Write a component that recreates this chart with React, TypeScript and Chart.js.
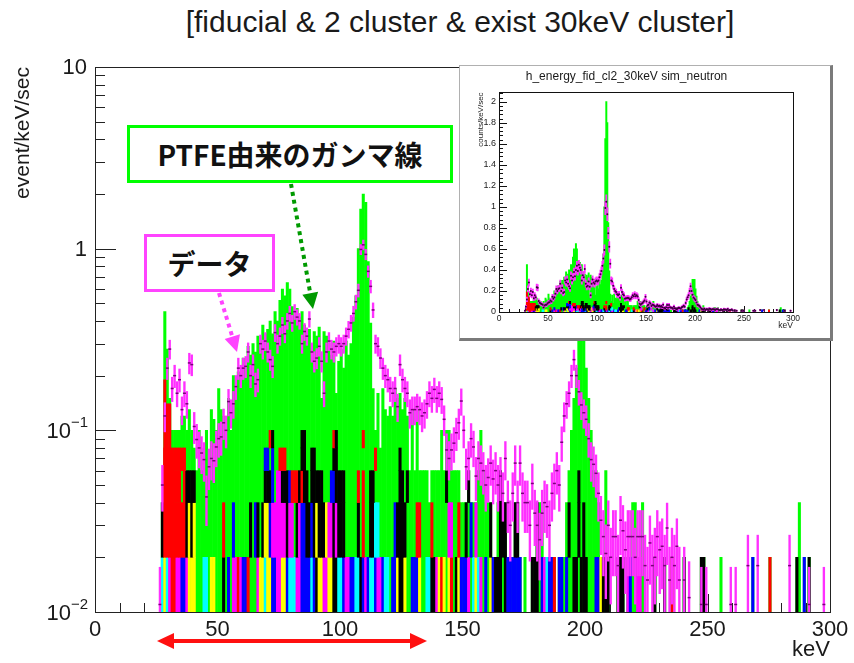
import React, { useEffect, useRef } from "react";
import { Chart, registerables } from "chart.js";

Chart.register(...registerables);

const FONT = "'Liberation Sans', Arial, Helvetica, sans-serif";
const CJK_FONT = "'Noto Sans CJK JP', 'Noto Sans CJK SC', sans-serif";
const INK = "#1a1a1a";

// Energy spectrum: 300 bins of 1 keV covering 0–300 keV
const BIN_COUNT = 300;
const binCenters = Array.from({ length: BIN_COUNT }, (_, i) => i + 0.5);

// Rate carried by one simulated count, and by one measured count (Poisson errors)
const SIM_COUNT_RATE = 0.02;
const DATA_COUNT_RATE = 0.004;

// Total simulated rate per bin [event/keV/sec] (top of the stacked histogram)
const simTotal = [
  0, 0, 0, 0, 0, 0, 0, 0, 0, 0,
  0, 0, 0, 0, 0, 0, 0, 0, 0, 0,
  0, 0, 0, 0, 0, 0, 0, 0.04, 0.45, 0.28,
  0.15, 0.1, 0.1, 0.1, 0.1, 0.12, 0.12, 0.1, 0.13, 0.1,
  0.08, 0.06, 0.1, 0.06, 0.08, 0.1, 0.06, 0.13, 0.115, 0.1,
  0.17, 0.13, 0.12, 0.1, 0.15, 0.1, 0.2, 0.17, 0.21, 0.19,
  0.25, 0.22, 0.29, 0.26, 0.3, 0.27, 0.33, 0.3, 0.38, 0.34,
  0.36, 0.4, 0.34, 0.45, 0.4, 0.52, 0.6, 0.55, 0.65, 0.6,
  0.48, 0.45, 0.47, 0.42, 0.45, 0.38, 0.33, 0.36, 0.3, 0.35,
  0.33, 0.37, 0.15, 0.35, 0.33, 0.3, 0.26, 0.31, 0.16, 0.24,
  0.28, 0.22, 0.31, 0.26, 0.3, 0.42, 0.55, 1.0, 1.65, 2.0,
  1.8, 0.85, 0.39, 0.17, 0.1, 0.16, 0.08, 0.17, 0.13, 0.12,
  0.135, 0.12, 0.17, 0.15, 0.16, 0.13, 0.15, 0.12, 0.06, 0.13,
  0.06, 0.13, 0.06, 0.06, 0.06, 0.06, 0.04, 0.06, 0.06, 0.06,
  0.06, 0.1, 0.06, 0.1, 0.1, 0.06, 0.06, 0.06, 0.06, 0.04,
  0.04, 0.04, 0.06, 0.04, 0.04, 0.04, 0.06, 0.1, 0.06, 0.04,
  0.04, 0.04, 0.02, 0.02, 0.04, 0.06, 0.04, 0.04, 0.02, 0.02,
  0.02, 0.04, 0.04, 0.02, 0, 0.02, 0, 0, 0.02, 0.02,
  0.04, 0.04, 0.04, 0.02, 0.02, 0.02, 0.02, 0.02, 0, 0.02,
  0.02, 0.02, 0.04, 0.06, 0.1, 0.15, 0.22, 0.31, 0.31, 0.31,
  0.22, 0.15, 0.1, 0.06, 0.06, 0.04, 0.02, 0.02, 0.06, 0.02,
  0, 0, 0, 0.02, 0.02, 0.02, 0, 0.02, 0.02, 0.04,
  0.04, 0.02, 0.02, 0.04, 0, 0, 0, 0, 0.02, 0,
  0, 0, 0.02, 0, 0, 0.02, 0, 0, 0, 0,
  0.02, 0, 0, 0, 0, 0, 0, 0.02, 0.02, 0,
  0, 0, 0, 0, 0, 0.02, 0, 0, 0, 0,
  0, 0, 0, 0, 0, 0, 0, 0, 0.02, 0,
  0, 0, 0, 0, 0, 0.02, 0, 0, 0, 0,
  0, 0, 0, 0, 0, 0, 0.02, 0.04, 0, 0.02,
  0, 0.02, 0, 0, 0, 0, 0, 0, 0, 0,
];

// Measured rate per bin [event/keV/sec]; 0 = empty bin
const dataRate = [
  0, 0, 0, 0, 0, 0, 0, 0, 0, 0,
  0, 0, 0, 0, 0, 0, 0, 0, 0, 0,
  0, 0, 0, 0, 0, 0, 0.011, 0.05, 0.12, 0.22,
  0.28, 0.17, 0.2, 0.16, 0.19, 0.13, 0.16, 0.14, 0.235, 0.23,
  0.105, 0.089, 0.08, 0.075, 0.069, 0.043, 0.063, 0.07, 0.068, 0.081,
  0.09, 0.092, 0.11, 0.1, 0.144, 0.125, 0.14, 0.174, 0.22, 0.2,
  0.22, 0.225, 0.27, 0.2, 0.23, 0.18, 0.19, 0.3, 0.28, 0.31,
  0.27, 0.245, 0.225, 0.345, 0.3, 0.33, 0.38, 0.34, 0.4, 0.44,
  0.39, 0.45, 0.42, 0.4, 0.3, 0.35, 0.33, 0.41, 0.27, 0.24,
  0.25, 0.29, 0.24, 0.16, 0.27, 0.31, 0.28, 0.27, 0.29, 0.3,
  0.29, 0.3, 0.33, 0.36, 0.39, 0.44, 0.51, 0.59, 0.99, 1.05,
  0.93, 0.75, 0.62, 0.46, 0.3, 0.29, 0.25, 0.22, 0.2, 0.19,
  0.17, 0.16, 0.17, 0.135, 0.23, 0.19, 0.17, 0.16, 0.125, 0.13,
  0.13, 0.135, 0.13, 0.12, 0.125, 0.14, 0.16, 0.15, 0.168, 0.15,
  0.16, 0.148, 0.115, 0.078, 0.07, 0.078, 0.085, 0.097, 0.11, 0.145,
  0.1, 0.063, 0.07, 0.09, 0.081, 0.056, 0.07, 0.066, 0.06, 0.05,
  0.055, 0.066, 0.054, 0.06, 0.05, 0.056, 0.045, 0.07, 0.04, 0.03,
  0.045, 0.066, 0.04, 0.066, 0.045, 0.04, 0.04, 0.03, 0.051, 0.035,
  0.03, 0.025, 0.035, 0.04, 0.038, 0.03, 0.045, 0.051, 0.06, 0.05,
  0.086, 0.12, 0.14, 0.16, 0.2, 0.245, 0.2, 0.163, 0.138, 0.125,
  0.115, 0.09, 0.069, 0.065, 0.058, 0.045, 0.032, 0.026, 0.021, 0.03,
  0.02, 0.026, 0.026, 0.018, 0.032, 0.028, 0.022, 0.026, 0.026, 0.026,
  0.02, 0.026, 0.026, 0.026, 0.018, 0.015, 0.024, 0.018, 0.02, 0.026,
  0.022, 0.023, 0.018, 0.029, 0.015, 0.02, 0.018, 0.023, 0.015, 0,
  0.015, 0, 0.012, 0, 0, 0, 0, 0.011, 0, 0.011,
  0, 0, 0, 0, 0, 0, 0, 0, 0, 0.011,
  0, 0.011, 0, 0, 0, 0, 0.018, 0, 0, 0,
  0.018, 0, 0, 0, 0, 0, 0, 0, 0, 0,
  0, 0, 0, 0.018, 0, 0, 0, 0, 0, 0,
  0, 0.011, 0, 0, 0, 0, 0, 0.011, 0, 0,
];

// Simulated background components, one simulated count per layer.
// c cyan, y yellow, b blue, m magenta, r red, k black; g / . = no extra component
const simLayer1 = [
  "..........", "..........", ".......cyc", "mrrmmbbmyy", "ygggccgyyg",
  "ggkgbgmmrm", "bbrgggmyyc", "yybbmmyybc", "ccmmbbbbcb", "kyymmyykkc",
  "cbmmbbcckb", "mbccbmmbcc", "gbbykkyggb", "bbyggcckkm", "yrygyrgkyb",
  "bbmgcycmgb", "gybkkk.kbb", "bbbb.g..kk", "kgbmcbbr.b", "bgbggkkgkk",
  "kgg.bbykkk", "...kkk.mbg", "gmmg....k.", "..k..r....", "k......kk.",
  ".....g....", "........b.", ".....r....", "......kg.b", ".k........",
].join("");
const simLayer2 = [
  "..........", "..........", ".......krr", "rrrrrrrkyk", "yggggggggg",
  "ggrgggbggg", "gggkgbkgky", "ybmmmmmmkm", "mgkmbbkkbk", "ykkkymmkmk",
  "kkgggggkgr", "ggkkccgggg", "ggbkkkkggg", "grrggggrgg", "ggggmmggrg",
  "gkgbgmgggg", "gk..gkkk..", ".kk.......", "kgg.......", "..gkgggkgk",
  "gggggg..g.", ".........g", "g..g......", "..........", "..........",
  "..........", "..........", "..........", ".......g..", "..........",
].join("");
const simLayer3 = [
  "..........", "..........", ".......rrr", "rrrrrgrkkk", "kggggggggg",
  "gggggggggg", "gggggggggk", "kkbgmmkkkb", "rrrkrkkgkk", "kkkgggbbkk",
  "kkgggggrgr", "ggkkgggggg", "ggggkkgkgg", "gggggggggg", "gggkgggggg",
  "..k....g..", ".....k....", "..........", "..........", "...ggggkgg",
  "ggg.....g.", "..........", "..........", "..........", "..........",
  "..........", "..........", "..........", "..........", "..........",
].join("");
const simLayer4 = [
  "..........", "..........", ".......rrr", "rrrrrrrggg", "gggggggggg",
  "gggggggggg", "gggggggggb", "bgbggrrrgg", "ggggkkggkk", "gggggggkkg",
  "gggggggggg", "ggggrggggg", "ggggkggggg", "..........", "..........",
  "..........", "..........", "..........", "..........", "..........",
  "..........", "..........", "..........", "..........", "..........",
  "..........", "..........", "..........", "..........", "..........",
].join("");
const simLayer5 = [
  "..........", "..........", "..........", "..........", "..........",
  "..........", "..........", ".rk.......", "....kk....", ".......rk.",
  ".........r", "..........", "..........", "..........", "..........",
  "..........", "..........", "..........", "..........", "..........",
  "..........", "..........", "..........", "..........", "..........",
  "..........", "..........", "..........", "..........", "..........",
].join("");
const simLayers = [simLayer1, simLayer2, simLayer3, simLayer4, simLayer5];

// Extra red component near threshold: [bin index, top rate]
const redThresholdPeak: Array<[number, number]> = [
  [28, 0.19],
  [29, 0.14],
  [30, 0.14],
  [31, 0.075],
];

const componentColors: Record<string, string> = {
  c: "#00ffff",
  y: "#ffff00",
  b: "#0000ff",
  m: "#ff00ff",
  r: "#ff0000",
  k: "#000000",
};
const SIM_GREEN = "#00ff00";
const DATA_BAR = "#ff30ff";

const range = (start: number, stop: number, step: number) => {
  const out: number[] = [];
  for (let v = start; v <= stop + 1e-9; v += step) out.push(Math.round(v * 1000) / 1000);
  return out;
};

// Axis tick layout
const xMajor = range(0, 300, 50);
const xMinor = range(0, 300, 10).filter((v) => v % 50 !== 0);
const logMajor = [0.01, 0.1, 1, 10];
const logMinor = [0.01, 0.1, 1].flatMap((d) => [2, 3, 4, 5, 6, 7, 8, 9].map((m) => d * m));
const insetYMajor = range(0, 2, 0.2);
const insetYMinor = range(0, 2.08, 0.04).filter((v) => Math.round(v * 100) % 20 !== 0);

function buildDatasets(log: boolean, look: { errWidth: number; inflate: number; marker: any }) {
  const floor = log ? 1e-4 : 0;
  const barStyle = {
    type: "bar" as const,
    grouped: false,
    barPercentage: 1,
    categoryPercentage: 1,
    borderWidth: 0,
    inflateAmount: look.inflate,
  };
  const redMap = new Map(redThresholdPeak);
  const sets: any[] = [];
  sets.push({
    ...barStyle,
    label: "simulation",
    order: 20,
    backgroundColor: SIM_GREEN,
    data: binCenters.map((x, i) => ({ x, y: simTotal[i] > 0 ? [floor, simTotal[i]] : null })),
  });
  sets.push({
    ...barStyle,
    label: "threshold component",
    order: 15,
    backgroundColor: componentColors.r,
    data: binCenters.map((x, i) => ({ x, y: redMap.has(i) ? [floor, redMap.get(i)] : null })),
  });
  simLayers.forEach((codes, k) => {
    sets.push({
      ...barStyle,
      label: `component layer ${k + 1}`,
      order: 10 - k,
      backgroundColor: binCenters.map((_, i) => componentColors[codes[i]] ?? SIM_GREEN),
      data: binCenters.map((x, i) => {
        const color = componentColors[codes[i]];
        const lo = k * SIM_COUNT_RATE;
        const hi = Math.min((k + 1) * SIM_COUNT_RATE, simTotal[i]);
        return { x, y: color && hi > lo ? [k === 0 ? floor : lo, hi] : null };
      }),
    });
  });
  // measured spectrum: Poisson error bars and markers
  sets.push({
    type: "bar",
    label: "data error",
    order: 2,
    grouped: false,
    borderWidth: 0,
    barThickness: look.errWidth,
    backgroundColor: DATA_BAR,
    data: binCenters.map((x, i) => {
      const v = dataRate[i];
      if (!(v > 0)) return { x, y: null };
      const err = Math.sqrt(v * DATA_COUNT_RATE);
      return { x, y: [Math.max(v - err, floor), v + err] };
    }),
  });
  sets.push({
    type: "line",
    label: "data",
    order: 1,
    showLine: false,
    ...look.marker,
    data: binCenters.map((x, i) => ({ x, y: dataRate[i] > 0 ? dataRate[i] : null })),
  });
  return sets;
}

// ROOT-like frame with ticks pointing into the plot
const rootAxes = {
  id: "rootAxes",
  beforeDatasetsDraw(chart: any, _args: any, opts: any) {
    const { ctx, chartArea: a, scales } = chart;
    ctx.save();
    ctx.strokeStyle = opts.color;
    ctx.lineWidth = 1;
    ctx.beginPath();
    for (const t of opts.x) {
      for (const v of t.values) {
        const px = Math.round(scales.x.getPixelForValue(v)) + 0.5;
        ctx.moveTo(px, a.bottom);
        ctx.lineTo(px, a.bottom - t.len);
      }
    }
    for (const t of opts.y) {
      for (const v of t.values) {
        const py = Math.round(scales.y.getPixelForValue(v)) + 0.5;
        ctx.moveTo(a.left, py);
        ctx.lineTo(a.left + t.len, py);
      }
    }
    ctx.stroke();
    ctx.restore();
  },
  afterDatasetsDraw(chart: any, _args: any, opts: any) {
    const { ctx, chartArea: a } = chart;
    ctx.save();
    ctx.strokeStyle = opts.color;
    ctx.lineWidth = 1;
    ctx.strokeRect(Math.round(a.left) + 0.5, Math.round(a.top) + 0.5, Math.round(a.right - a.left), Math.round(a.bottom - a.top));
    ctx.restore();
  },
};

// Power-of-ten labels for the log axis
const logLabels = {
  id: "logLabels",
  afterDraw(chart: any, _args: any, opts: any) {
    const { ctx, scales, chartArea } = chart;
    const right = chartArea.left - opts.gap;
    ctx.save();
    ctx.fillStyle = INK;
    ctx.textBaseline = "middle";
    ctx.textAlign = "right";
    for (const v of opts.values) {
      const py = scales.y.getPixelForValue(v);
      const exp = Math.round(Math.log10(v));
      if (exp >= 0) {
        ctx.font = `${opts.size}px ${FONT}`;
        ctx.fillText(String(Math.pow(10, exp)), right, py + 1);
      } else {
        const sup = "\u2212" + String(-exp);
        ctx.font = `${opts.supSize}px ${FONT}`;
        const sw = ctx.measureText(sup).width;
        ctx.fillText(sup, right + 1, py - 7);
        ctx.font = `${opts.size}px ${FONT}`;
        ctx.fillText("10", right + 1 - sw, py + 2);
      }
    }
    ctx.restore();
  },
};

function DottedArrow(p: { x1: number; y1: number; x2: number; y2: number; color: string }) {
  const head = 16;
  const half = 8;
  const dx = p.x2 - p.x1;
  const dy = p.y2 - p.y1;
  const len = Math.hypot(dx, dy);
  const ux = dx / len;
  const uy = dy / len;
  const bx = p.x2 - ux * head;
  const by = p.y2 - uy * head;
  return (
    <g>
      <line x1={p.x1} y1={p.y1} x2={bx} y2={by} stroke={p.color} strokeWidth={4} strokeDasharray="4 4" />
      <polygon
        points={`${p.x2},${p.y2} ${bx - uy * half},${by + ux * half} ${bx + uy * half},${by - ux * half}`}
        fill={p.color}
      />
    </g>
  );
}

export default function App() {
  const mainRef = useRef<HTMLCanvasElement>(null);
  const insetRef = useRef<HTMLCanvasElement>(null);

  useEffect(() => {
    if (!mainRef.current || !insetRef.current) return;

    const main = new Chart(mainRef.current, {
      type: "bar",
      data: {
        datasets: buildDatasets(true, {
          errWidth: 1.7,
          inflate: 0.3,
          marker: { pointStyle: "line", pointRadius: 1.5, borderWidth: 1.5, borderColor: "#7a007a", backgroundColor: "#7a007a" },
        }),
      },
      options: {
        responsive: false,
        animation: false,
        events: [],
        layout: { padding: { top: 67, right: 24, bottom: 0, left: 0 } },
        plugins: {
          legend: { display: false },
          tooltip: { enabled: false },
          rootAxes: {
            color: "#222",
            x: [
              { values: xMajor, len: 18 },
              { values: xMinor, len: 9 },
            ],
            y: [
              { values: logMajor, len: 21 },
              { values: logMinor, len: 10 },
            ],
          },
          logLabels: { values: logMajor, gap: 8, size: 22, supSize: 15 },
        } as any,
        scales: {
          x: {
            type: "linear",
            min: 0,
            max: 300,
            offset: false,
            grid: { display: false, drawTicks: false },
            border: { display: false },
            ticks: { stepSize: 50, font: { size: 22, family: FONT }, color: INK, padding: 5, maxRotation: 0, autoSkip: false },
            title: { display: true, text: "keV", align: "end", font: { size: 22, family: FONT }, color: INK, padding: { top: 0, bottom: 0 } },
            afterFit: (s: any) => {
              s.height = 51;
            },
          },
          y: {
            type: "logarithmic",
            min: 0.01,
            max: 10,
            grid: { display: false, drawTicks: false },
            border: { display: false },
            ticks: { display: false },
            title: { display: true, text: "event/keV/sec", align: "end", font: { size: 21, family: FONT }, color: INK, padding: { top: 11, bottom: 0 } },
            afterFit: (s: any) => {
              s.width = 95;
            },
          },
        } as any,
      },
      plugins: [rootAxes, logLabels],
    } as any);

    const inset = new Chart(insetRef.current, {
      type: "bar",
      data: {
        datasets: buildDatasets(false, {
          errWidth: 1.2,
          inflate: 0.5,
          marker: { pointStyle: "circle", pointRadius: 1, borderWidth: 0, backgroundColor: "#3a003a" },
        }),
      },
      options: {
        responsive: false,
        animation: false,
        events: [],
        layout: { padding: { top: 3, right: 37, bottom: 0, left: 0 } },
        plugins: {
          legend: { display: false },
          tooltip: { enabled: false },
          title: {
            display: true,
            text: "h_energy_fid_cl2_30keV sim_neutron",
            font: { size: 12, family: FONT, weight: "normal" },
            color: INK,
            padding: { top: 0, bottom: 9 },
          },
          rootAxes: {
            color: "#111",
            x: [
              { values: xMajor, len: 6 },
              { values: xMinor, len: 3 },
            ],
            y: [
              { values: insetYMajor, len: 8 },
              { values: insetYMinor, len: 4 },
            ],
          },
        } as any,
        scales: {
          x: {
            type: "linear",
            min: 0,
            max: 300,
            offset: false,
            grid: { display: false, drawTicks: false },
            border: { display: false },
            ticks: { stepSize: 50, font: { size: 8.5, family: FONT }, color: INK, padding: 2, maxRotation: 0, autoSkip: false },
            title: { display: true, text: "keV", align: "end", font: { size: 8.5, family: FONT }, color: INK, padding: { top: 0, bottom: 7 } },
            afterFit: (s: any) => {
              s.height = 26;
            },
          },
          y: {
            type: "linear",
            min: 0,
            max: 2.09,
            grid: { display: false, drawTicks: false },
            border: { display: false },
            afterBuildTicks: (s: any) => {
              s.ticks = insetYMajor.map((value) => ({ value }));
            },
            ticks: {
              font: { size: 9, family: FONT },
              color: INK,
              padding: 3,
              autoSkip: false,
              callback: (v: any) => String(Number(Number(v).toFixed(2))),
            },
            title: { display: true, text: "counts/keV/sec", align: "end", font: { size: 8, family: FONT }, color: INK, padding: { top: 16, bottom: 0 } },
            afterFit: (s: any) => {
              s.width = 39;
            },
          },
        } as any,
      },
      plugins: [rootAxes],
    } as any);

    return () => {
      main.destroy();
      inset.destroy();
    };
  }, []);

  return (
    <div style={{ position: "absolute", left: 0, top: 0, width: 854, height: 663, background: "#fff", overflow: "hidden", fontFamily: FONT }}>
      <div
        style={{
          position: "absolute",
          left: 0,
          top: 4,
          width: 920,
          textAlign: "center",
          fontSize: 30,
          lineHeight: "36px",
          color: INK,
          whiteSpace: "nowrap",
        }}
      >
        [fiducial &amp; 2 cluster &amp; exist 30keV cluster]
      </div>
      <canvas ref={mainRef} width={854} height={663} style={{ position: "absolute", left: 0, top: 0 }} />
      <div
        style={{
          position: "absolute",
          left: 459,
          top: 65,
          width: 370,
          height: 272,
          background: "#fff",
          borderLeft: "1px solid #b0b0b0",
          borderTop: "1px solid #b0b0b0",
          borderRight: "3px solid #7a7a7a",
          borderBottom: "3px solid #7a7a7a",
        }}
      >
        <canvas ref={insetRef} width={370} height={272} style={{ display: "block" }} />
      </div>
      <svg width={854} height={663} style={{ position: "absolute", left: 0, top: 0, pointerEvents: "none" }}>
        <DottedArrow x1={291} y1={184} x2={313} y2={309} color="#009a00" />
        <DottedArrow x1={219} y1={293} x2={237} y2={352} color="#ff44ff" />
        <line x1={172} y1={641} x2={412} y2={641} stroke="#ff1010" strokeWidth={4} />
        <polygon points="157,641 174,633 174,649" fill="#ff1010" />
        <polygon points="427,641 410,633 410,649" fill="#ff1010" />
      </svg>
      <div
        style={{
          position: "absolute",
          left: 127,
          top: 125,
          width: 326,
          height: 58,
          boxSizing: "border-box",
          border: "3px solid #00ff00",
          background: "#fff",
          display: "flex",
          alignItems: "center",
          justifyContent: "center",
          fontFamily: CJK_FONT,
          fontWeight: 700,
          fontSize: 28,
          color: "#111",
          whiteSpace: "nowrap",
        }}
      >
        PTFE由来のガンマ線
      </div>
      <div
        style={{
          position: "absolute",
          left: 144,
          top: 234,
          width: 131,
          height: 58,
          boxSizing: "border-box",
          border: "3px solid #ff44ff",
          background: "#fff",
          display: "flex",
          alignItems: "center",
          justifyContent: "center",
          fontFamily: CJK_FONT,
          fontWeight: 700,
          fontSize: 28,
          color: "#111",
          whiteSpace: "nowrap",
        }}
      >
        データ
      </div>
    </div>
  );
}
